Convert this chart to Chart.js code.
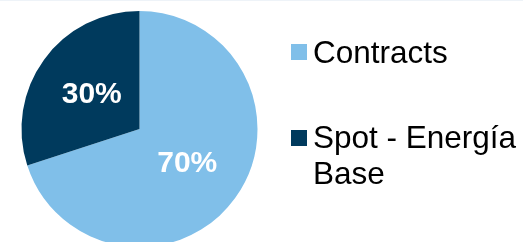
<!DOCTYPE html>
<html>
<head>
<meta charset="utf-8">
<script src="https://cdn.jsdelivr.net/npm/chart.js@4"></script>
<style>
    html, body { margin: 0; padding: 0; background: #fff; overflow: hidden; }
    #wrap { position: relative; width: 523px; height: 242px; overflow: hidden; }
    canvas { position: absolute; left: 0; top: 0; }
</style>
</head>
<body>
<div id="wrap">
    <canvas id="myChart" width="523" height="250"></canvas>
</div>
<script>
// chart data
const labels = ['Contracts', ['Spot - Energía', 'Base']];
const shares = [70, 30];
const colors = ['#80bfe9', '#003a5d'];

// white % labels inside the slices
const sliceLabels = {
    id: 'sliceLabels',
    afterDatasetsDraw(chart)
    {
        const ctx = chart.ctx;
        const meta = chart.getDatasetMeta(0);
        ctx.save();
        ctx.fillStyle = '#ffffff';
        ctx.font = 'bold 30px "Liberation Sans", Arial, sans-serif';
        ctx.textAlign = 'center';
        ctx.textBaseline = 'middle';
        meta.data.forEach((arc, i) =>
        {
            const p = arc.getCenterPoint();
            ctx.fillText(shares[i] + '%', p.x, p.y);
        });
        ctx.restore();
    }
};

// legend on the right, with the wrapped second label
const sideLegend = {
    id: 'sideLegend',
    beforeDraw(chart)
    {
        const ctx = chart.ctx;
        ctx.save();
        ctx.fillStyle = '#eef3f8';
        ctx.fillRect(0, 0, chart.width, 1);
        ctx.restore();
    },
    afterDraw(chart)
    {
        const ctx = chart.ctx;
        const tops = [44, 130];
        const baselines = [63, 148];
        ctx.save();
        ctx.font = '31.5px "Liberation Sans", Arial, sans-serif';
        ctx.textBaseline = 'alphabetic';
        ctx.textAlign = 'left';
        chart.data.labels.forEach((lab, i) =>
        {
            ctx.fillStyle = colors[i];
            ctx.fillRect(291, tops[i], 16, 16);
            ctx.fillStyle = '#000000';
            const lines = Array.isArray(lab) ? lab : [lab];
            lines.forEach((t, j) =>
            {
                ctx.fillText(t, 313, baselines[i] + j * 36);
            });
        });
        ctx.restore();
    }
};

const ctx = document.getElementById('myChart').getContext('2d');
const myChart = new Chart(ctx, {
    type: 'pie',
    data: {
        labels: labels,
        datasets: [{
            data: shares,
            backgroundColor: colors,
            borderWidth: 0
        }]
    },
    options: {
        responsive: false,
        animation: false,
        devicePixelRatio: 1,
        layout: {
            padding: { left: 21, right: 265, top: 11, bottom: 3 }
        },
        plugins: {
            legend: { display: false },
            tooltip: { enabled: false }
        }
    },
    plugins: [sliceLabels, sideLegend]
});
</script>
</body>
</html>
